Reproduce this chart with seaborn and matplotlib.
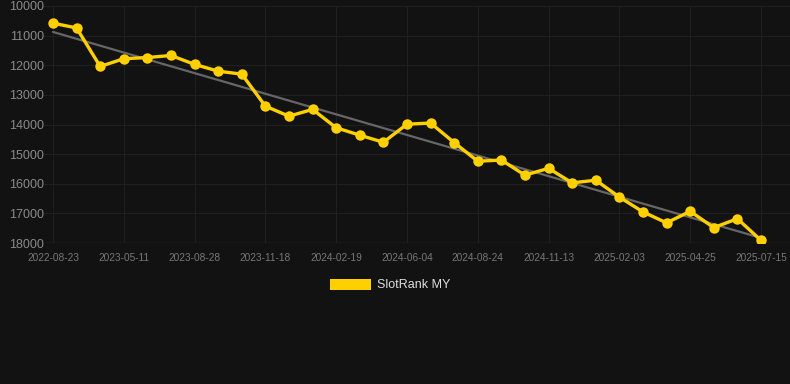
import numpy as np
import pandas as pd
import matplotlib
matplotlib.use("Agg")
import matplotlib.pyplot as plt
import seaborn as sns
from matplotlib.patches import Patch

# rank values, one per sample
rank = [10580, 10740, 12040, 11780, 11740, 11670, 11970, 12200, 12300, 13380,
        13720, 13490, 14110, 14360, 14600, 13990, 13950, 14610, 15240, 15200,
        15710, 15480, 15970, 15880, 16450, 16950, 17320, 16930, 17480, 17180,
        17910]
tick_dates = ['2022-08-23', '2023-05-11', '2023-08-28', '2023-11-18', '2024-02-19',
              '2024-06-04', '2024-08-24', '2024-11-13', '2025-02-03', '2025-04-25',
              '2025-07-15']
series_name = 'SlotRank MY'

df = pd.DataFrame({'idx': np.arange(len(rank)), 'rank': rank})

bg = '#121212'
sns.set_theme(style='dark')
plt.rcParams['font.family'] = ['Liberation Sans', 'DejaVu Sans']

fig = plt.figure(figsize=(7.9, 3.84), dpi=100, facecolor=bg)
ax = fig.add_axes([44 / 790, 1 - 243 / 384, 746 / 790, 237 / 384])
ax.set_facecolor(bg)

# trend line
sns.regplot(data=df, x='idx', y='rank', scatter=False, ci=None, ax=ax,
            truncate=True, line_kws={'color': '#666666', 'lw': 1.6, 'zorder': 2})

sns.lineplot(data=df, x='idx', y='rank', ax=ax, color='#FFD000', lw=2.4,
             marker='o', markersize=7.5, markeredgewidth=0, zorder=3)

ax.set_ylim(18000, 10000)
ax.set_yticks(range(10000, 18001, 1000))
ax.set_xlim(-0.38, len(rank) - 1 + 1.23)
ax.set_xticks(range(0, len(rank), 3))
ax.set_xticklabels(tick_dates)
ax.set_xlabel('')
ax.set_ylabel('')

ax.grid(True, color='#202020', lw=0.8)
ax.tick_params(axis='y', colors='#8a8a8a', labelsize=9, length=0, pad=0)
ax.tick_params(axis='x', colors='#777777', labelsize=7.3, length=5, width=0.8,
               pad=2)
ax.tick_params(axis='x', color='#222222')
for s in ax.spines.values():
    s.set_visible(False)
ax.axhline(18000, color='#2c2c2c', lw=1, zorder=1)

fig.legend(handles=[Patch(facecolor='#FFD000', edgecolor='none', label=series_name)],
           loc='center', bbox_to_anchor=(0.494, 1 - 285 / 384), frameon=False,
           fontsize=9, labelcolor='#dddddd', handlelength=3.3, handleheight=1.0,
           handletextpad=0.5)

fig.savefig('out.png', dpi=100, facecolor=bg)
